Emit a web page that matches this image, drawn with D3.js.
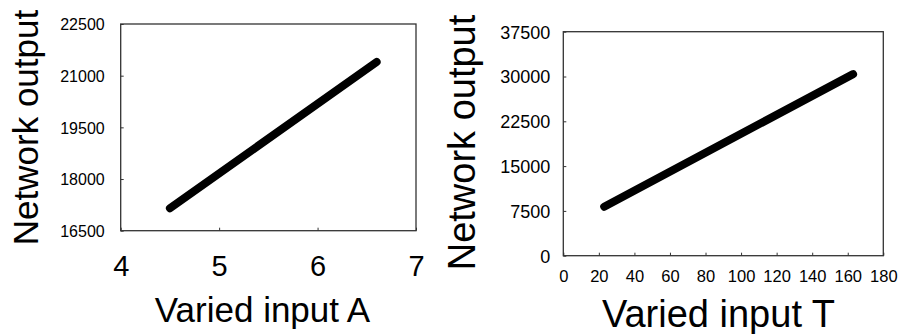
<!DOCTYPE html>
<html>
<head>
<meta charset="utf-8">
<script src="https://cdn.jsdelivr.net/npm/d3@7"></script>
<style>
  body { margin: 0; background: #fff; }
  text { font-family: "Liberation Sans", Arial, sans-serif; fill: #000; }
</style>
</head>
<body>
<div class="canvas"></div>
<script>
const dims = { width: 899, height: 334 };

// panel A data
const inputA = [4.5, 6.6];
const outputA = [17150, 21400];
const xTicksA = [4, 5, 6, 7];
const yTicksA = [16500, 18000, 19500, 21000, 22500];

// panel T data
const inputT = [23, 163];
const outputT = [8200, 30400];
const xTicksT = [0, 20, 40, 60, 80, 100, 120, 140, 160, 180];
const yTicksT = [0, 7500, 15000, 22500, 30000, 37500];

const panels = [
    {
        x: inputA, y: outputA, xTicks: xTicksA, yTicks: yTicksA,
        box: { left: 120.7, right: 416, top: 24, bottom: 230.7 },
        xFont: 29, xTickY: 276, yFont: 16, yTickGap: 16,
        xLabel: 'Varied input A', xLabelFont: 35, xLabelX: 262.5, xLabelY: 322,
        yLabelFont: 35, yLabelX: 38, yLabelY: 127.5
    },
    {
        x: inputT, y: outputT, xTicks: xTicksT, yTicks: yTicksT,
        box: { left: 563.3, right: 883.3, top: 31.7, bottom: 255.7 },
        xFont: 16.5, xTickY: 282, yFont: 18, yTickGap: 13,
        xLabel: 'Varied input T', xLabelFont: 38, xLabelX: 718.5, xLabelY: 327,
        yLabelFont: 38, yLabelX: 475, yLabelY: 142.5
    }
];

const svg = d3.select('.canvas')
    .append('svg')
    .attr('width', dims.width)
    .attr('height', dims.height);

panels.forEach(p => {
    const b = p.box;
    const xScale = d3.scaleLinear()
        .domain(d3.extent(p.xTicks))
        .range([b.left, b.right]);
    const yScale = d3.scaleLinear()
        .domain(d3.extent(p.yTicks))
        .range([b.bottom, b.top]);

    const g = svg.append('g');

    // ticks pointing inward
    const xAxis = g.append('g')
        .attr('transform', `translate(0, ${b.bottom})`)
        .call(d3.axisBottom(xScale).tickValues(p.xTicks).tickSizeInner(-3).tickSizeOuter(0).tickFormat(d3.format('d')));
    xAxis.select('.domain').remove();
    xAxis.selectAll('.tick line').attr('stroke', '#333');
    xAxis.selectAll('.tick text')
        .attr('y', p.xTickY - b.bottom)
        .attr('dy', 0)
        .style('font-size', p.xFont + 'px')
        .attr('font-family', null);

    const yAxis = g.append('g')
        .attr('transform', `translate(${b.left}, 0)`)
        .call(d3.axisLeft(yScale).tickValues(p.yTicks).tickSizeInner(-3).tickSizeOuter(0).tickFormat(d3.format('d')));
    yAxis.select('.domain').remove();
    yAxis.selectAll('.tick line').attr('stroke', '#333');
    yAxis.selectAll('.tick text')
        .attr('x', -p.yTickGap)
        .attr('dy', '0.36em')
        .style('font-size', p.yFont + 'px')
        .attr('font-family', null);

    g.append('rect')
        .attr('x', b.left)
        .attr('y', b.top)
        .attr('width', b.right - b.left)
        .attr('height', b.bottom - b.top)
        .attr('fill', 'none')
        .attr('stroke', '#333')
        .attr('stroke-width', 1.3);

    const line = d3.line()
        .x(d => xScale(d[0]))
        .y(d => yScale(d[1]));

    g.append('path')
        .datum(d3.zip(p.x, p.y))
        .attr('d', line)
        .attr('fill', 'none')
        .attr('stroke', '#000')
        .attr('stroke-width', 8)
        .attr('stroke-linecap', 'round');

    g.append('text')
        .attr('x', p.xLabelX)
        .attr('y', p.xLabelY)
        .attr('text-anchor', 'middle')
        .style('font-size', p.xLabelFont + 'px')
        .text(p.xLabel);

    g.append('text')
        .attr('transform', `translate(${p.yLabelX}, ${p.yLabelY}) rotate(-90)`)
        .attr('text-anchor', 'middle')
        .style('font-size', p.yLabelFont + 'px')
        .text('Network output');
});
</script>
</body>
</html>
